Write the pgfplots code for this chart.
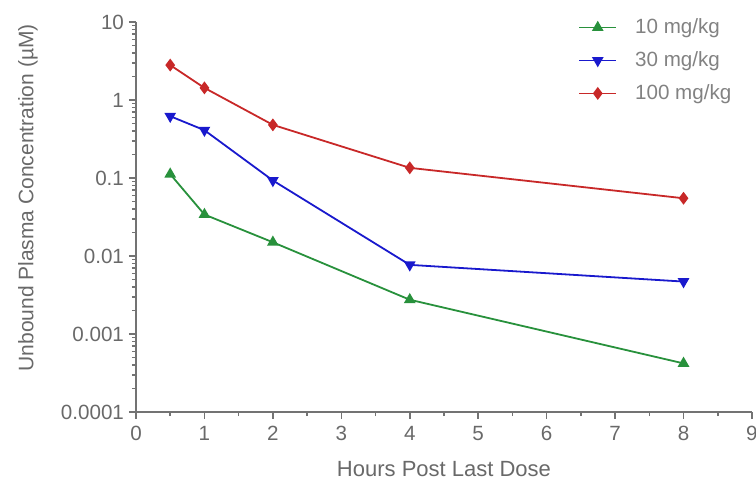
\documentclass[border=0pt]{standalone}
\usepackage{pgfplots}
\pgfplotsset{compat=1.18}
\usepackage{fontspec}
\setmainfont{Liberation Sans}
\definecolor{axgray}{RGB}{115,115,115}
\definecolor{txtgray}{RGB}{105,105,105}
\definecolor{leggray}{RGB}{130,130,130}
\definecolor{cgreen}{RGB}{40,145,60}
\definecolor{cblue}{RGB}{25,25,205}
\definecolor{cred}{RGB}{200,40,40}
\begin{document}
\begin{tikzpicture}
\begin{axis}[
  scale only axis, width=308pt, height=195pt,
  ymode=log, xmin=0, xmax=9, ymin=1e-4, ymax=10,
  axis x line=bottom, axis y line=left,
  axis line style={-, axgray, line width=0.9pt},
  tick align=outside, tick style={axgray, line width=0.8pt},
  major tick length=3.5pt, minor tick length=2pt,
  xtick={0,...,9}, minor xtick={0.5,1.5,...,8.5},
  ytick={1e-4,1e-3,1e-2,1e-1,1,10},
  yticklabels={0.0001,0.001,0.01,0.1,1,10},
  minor ytick={2e-4,3e-4,4e-4,5e-4,6e-4,7e-4,8e-4,9e-4,
    2e-3,3e-3,4e-3,5e-3,6e-3,7e-3,8e-3,9e-3,
    2e-2,3e-2,4e-2,5e-2,6e-2,7e-2,8e-2,9e-2,
    0.2,0.3,0.4,0.5,0.6,0.7,0.8,0.9,2,3,4,5,6,7,8,9},
  /pgf/number format/assume math mode=true,
  ticklabel style={font=\fontsize{10.3}{12}\selectfont, text=txtgray},
  yticklabel style={xshift=1pt},
  xlabel={Hours Post Last Dose},
  ylabel={Unbound Plasma Concentration (µM)},
  every axis x label/.style={at={(axis description cs:0.5,0)}, yshift=-28.5pt, anchor=center,
    font=\fontsize{11}{13}\selectfont, text=txtgray},
  every axis y label/.style={at={(axis description cs:0,0.549)}, xshift=-54pt, rotate=90, anchor=center,
    font=\fontsize{10.5}{12}\selectfont, text=txtgray},
  legend style={draw=none, fill=none, inner sep=0pt, at={(rel axis cs:0.7175,1.02)}, anchor=north west,
    font=\fontsize{10.3}{12}\selectfont, text=leggray, row sep=3.5pt},
  legend cell align=left,
  legend image code/.code={
    \draw[#1] (0pt,0pt) -- (18.5pt,0pt);
    \draw[#1, only marks] plot coordinates {(9.25pt,0pt)};
  },
  every axis plot/.append style={line width=0.9pt, mark size=2.5pt},
]
\addplot[cgreen, mark=triangle*] coordinates {(0.5,0.112) (1,0.034) (2,0.015) (4,0.00275) (8,0.00042)};
\addlegendentry{\hspace{7pt}10 mg/kg}
\addplot[cblue, mark=triangle*, mark options={rotate=180}] coordinates {(0.5,0.62) (1,0.41) (2,0.093) (4,0.0077) (8,0.0047)};
\addlegendentry{\hspace{7pt}30 mg/kg}
\addplot[cred, mark=diamond*] coordinates {(0.5,2.8) (1,1.43) (2,0.48) (4,0.135) (8,0.055)};
\addlegendentry{\hspace{7pt}100 mg/kg}
\end{axis}
\pgfresetboundingbox
\path[use as bounding box] (-68pt,-35pt) rectangle (310pt,206pt);
\end{tikzpicture}
\end{document}
